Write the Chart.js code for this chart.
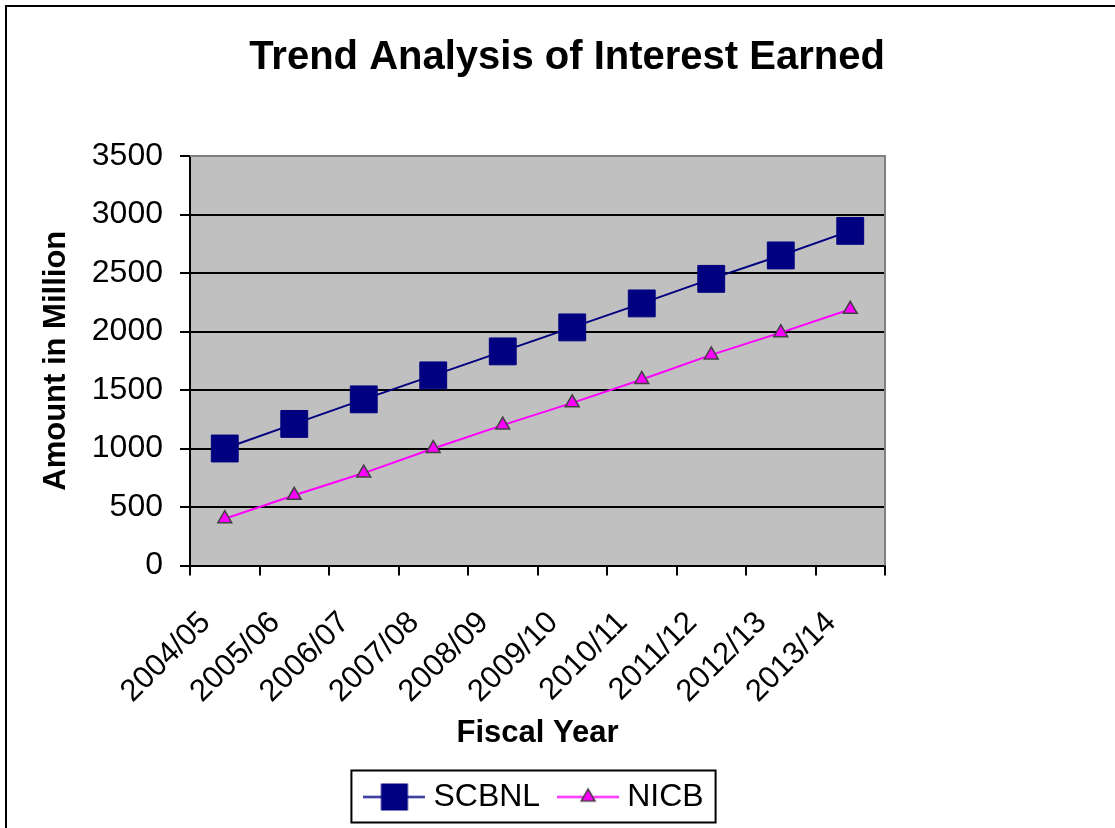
<!DOCTYPE html>
<html>
<head>
<meta charset="utf-8">
<script src="https://cdn.jsdelivr.net/npm/chart.js@4.4.0/dist/chart.umd.min.js"></script>
<style>
html, body { margin: 0; padding: 0; background: #fff; }
canvas { display: block; }
</style>
</head>
<body>
<canvas id="c" width="1115" height="828"></canvas>
<script>
// ---- data ----
const categories = ['2004/05', '2005/06', '2006/07', '2007/08', '2008/09', '2009/10', '2010/11', '2011/12', '2012/13', '2013/14'];
const scbnl = [1000, 1210, 1420, 1625, 1830, 2035, 2240, 2450, 2650, 2860];
const nicb = [400, 600, 790, 1000, 1200, 1390, 1590, 1800, 1990, 2190];
const yTicks = [0, 500, 1000, 1500, 2000, 2500, 3000, 3500];
const seriesNames = ['SCBNL', 'NICB'];

const FONT = "'Liberation Sans', Arial, sans-serif";
const NAVY = '#000080';
const MAGENTA = '#FF00FF';

// legend icons: line with marker
function makeIcon(kind) {
  const cv = document.createElement('canvas');
  cv.width = 62; cv.height = 31;
  const g = cv.getContext('2d');
  const cy = 15.5;
  g.lineWidth = 2;
  g.strokeStyle = kind === 'rect' ? NAVY : MAGENTA;
  g.beginPath(); g.moveTo(0, cy); g.lineTo(62, cy); g.stroke();
  if (kind === 'rect') {
    g.fillStyle = NAVY;
    g.fillRect(31 - 13.5, cy - 13.5, 27, 27);
  } else {
    const r = 8;
    g.beginPath();
    g.moveTo(31, cy - r);
    g.lineTo(31 + r * Math.sin(2 * Math.PI / 3), cy + r / 2);
    g.lineTo(31 - r * Math.sin(2 * Math.PI / 3), cy + r / 2);
    g.closePath();
    g.fillStyle = MAGENTA; g.fill();
    g.strokeStyle = '#404040'; g.lineWidth = 1.5; g.stroke();
  }
  return cv;
}
const legendIcons = [makeIcon('rect'), makeIcon('triangle')];

const decor = {
  id: 'decor',
  beforeDraw(chart) {
    const { ctx, chartArea: a } = chart;
    ctx.save();
    ctx.fillStyle = '#fff';
    ctx.fillRect(0, 0, chart.width, chart.height);
    ctx.strokeStyle = '#000';
    ctx.lineWidth = 2;
    ctx.strokeRect(6, 6, 1300, 1000);
    ctx.fillStyle = '#C0C0C0';
    ctx.fillRect(a.left, a.top, a.right - a.left, a.bottom - a.top);
    ctx.restore();
  },
  beforeDatasetsDraw(chart) {
    const { ctx, chartArea: a } = chart;
    ctx.save();
    ctx.strokeStyle = '#808080';
    ctx.lineWidth = 2;
    ctx.beginPath();
    ctx.moveTo(a.left, a.top);
    ctx.lineTo(a.right, a.top);
    ctx.lineTo(a.right, a.bottom);
    ctx.stroke();
    ctx.restore();
  },
  afterDraw(chart) {
    const lg = chart.legend;
    if (!lg || !lg.legendHitBoxes || !lg.legendHitBoxes.length) return;
    const hb = lg.legendHitBoxes;
    const last = hb[hb.length - 1];
    const left = hb[0].left - 20;
    const right = last.left + last.width + 12;
    const top = lg.top + 14.5;
    const bottom = lg.bottom - 0.5;
    const ctx = chart.ctx;
    ctx.save();
    ctx.strokeStyle = '#000';
    ctx.lineWidth = 2;
    ctx.strokeRect(left, top, right - left, bottom - top);
    ctx.restore();
  }
};

new Chart(document.getElementById('c'), {
  type: 'line',
  data: {
    labels: categories,
    datasets: [
      {
        label: seriesNames[0],
        data: scbnl,
        yAxisID: 'y',
        borderColor: NAVY,
        borderWidth: 2,
        backgroundColor: NAVY,
        pointStyle: 'rect',
        pointRadius: 19,
        pointBackgroundColor: NAVY,
        pointBorderColor: NAVY,
        pointBorderWidth: 1,
        tension: 0,
        fill: false
      },
      {
        label: seriesNames[1],
        data: nicb,
        yAxisID: 'y',
        borderColor: MAGENTA,
        borderWidth: 2,
        backgroundColor: MAGENTA,
        pointStyle: 'triangle',
        pointRadius: 8,
        pointBackgroundColor: MAGENTA,
        pointBorderColor: '#404040',
        pointBorderWidth: 1.5,
        tension: 0,
        fill: false
      }
    ]
  },
  options: {
    responsive: false,
    animation: false,
    devicePixelRatio: 1,
    events: [],
    layout: { padding: { left: 19, right: 0, top: 0, bottom: 5 } },
    plugins: {
      tooltip: { enabled: false },
      title: {
        display: true,
        text: 'Trend Analysis of Interest Earned',
        color: '#000',
        font: { family: FONT, size: 40, weight: 'bold' },
        padding: { top: 34, bottom: 74 }
      },
      legend: {
        display: true,
        position: 'bottom',
        fullSize: false,
        labels: {
          usePointStyle: true,
          pointStyleWidth: 46,
          color: '#000',
          padding: 25,
          font: { family: FONT, size: 32 },
          generateLabels(chart) {
            const items = Chart.defaults.plugins.legend.labels.generateLabels(chart);
            items.forEach((it, i) => { it.pointStyle = legendIcons[i]; it.fontColor = '#000'; });
            return items;
          }
        }
      }
    },
    scales: {
      x: {
        type: 'category',
        offset: true,
        grid: {
          display: true,
          offset: true,
          drawOnChartArea: false,
          drawTicks: true,
          tickLength: 10,
          color: '#000',
          lineWidth: 2
        },
        border: { display: true, color: '#000', width: 2 },
        ticks: {
          color: '#000',
          font: { family: FONT, size: 31 },
          minRotation: 45,
          maxRotation: 45,
          autoSkip: false,
          padding: 29,
          labelOffset: -19
        },
        title: {
          display: true,
          text: 'Fiscal Year',
          color: '#000',
          font: { family: FONT, size: 31, weight: 'bold' },
          padding: { top: 0, bottom: 4 }
        },
        afterFit(s) { s.height = 190.5; }
      },
      y: {
        position: 'left',
        min: 0,
        max: 3500,
        grid: {
          color: (c) => (c.tick && c.tick.value === 3500 ? '#808080' : '#000'),
          tickColor: '#000',
          lineWidth: 2,
          drawTicks: true,
          tickLength: 10
        },
        border: { display: true, color: '#000', width: 2 },
        ticks: {
          color: '#000',
          font: { family: FONT, size: 32 },
          padding: 17,
          callback: (v) => String(v)
        },
        afterBuildTicks(s) { s.ticks = yTicks.map(v => ({ value: v })); },
        title: {
          display: true,
          text: 'Amount in Million',
          color: '#000',
          font: { family: FONT, size: 31, weight: 'bold' },
          padding: { top: 19, bottom: 0 }
        },
        afterFit(s) { s.width = 171; }
      },
      y2: {
        type: 'linear',
        position: 'right',
        display: true,
        grid: { display: false, drawTicks: false },
        border: { display: false },
        ticks: { display: false },
        title: { display: false },
        afterFit(s) { s.width = 230; }
      }
    }
  },
  plugins: [decor]
});
</script>
</body>
</html>
